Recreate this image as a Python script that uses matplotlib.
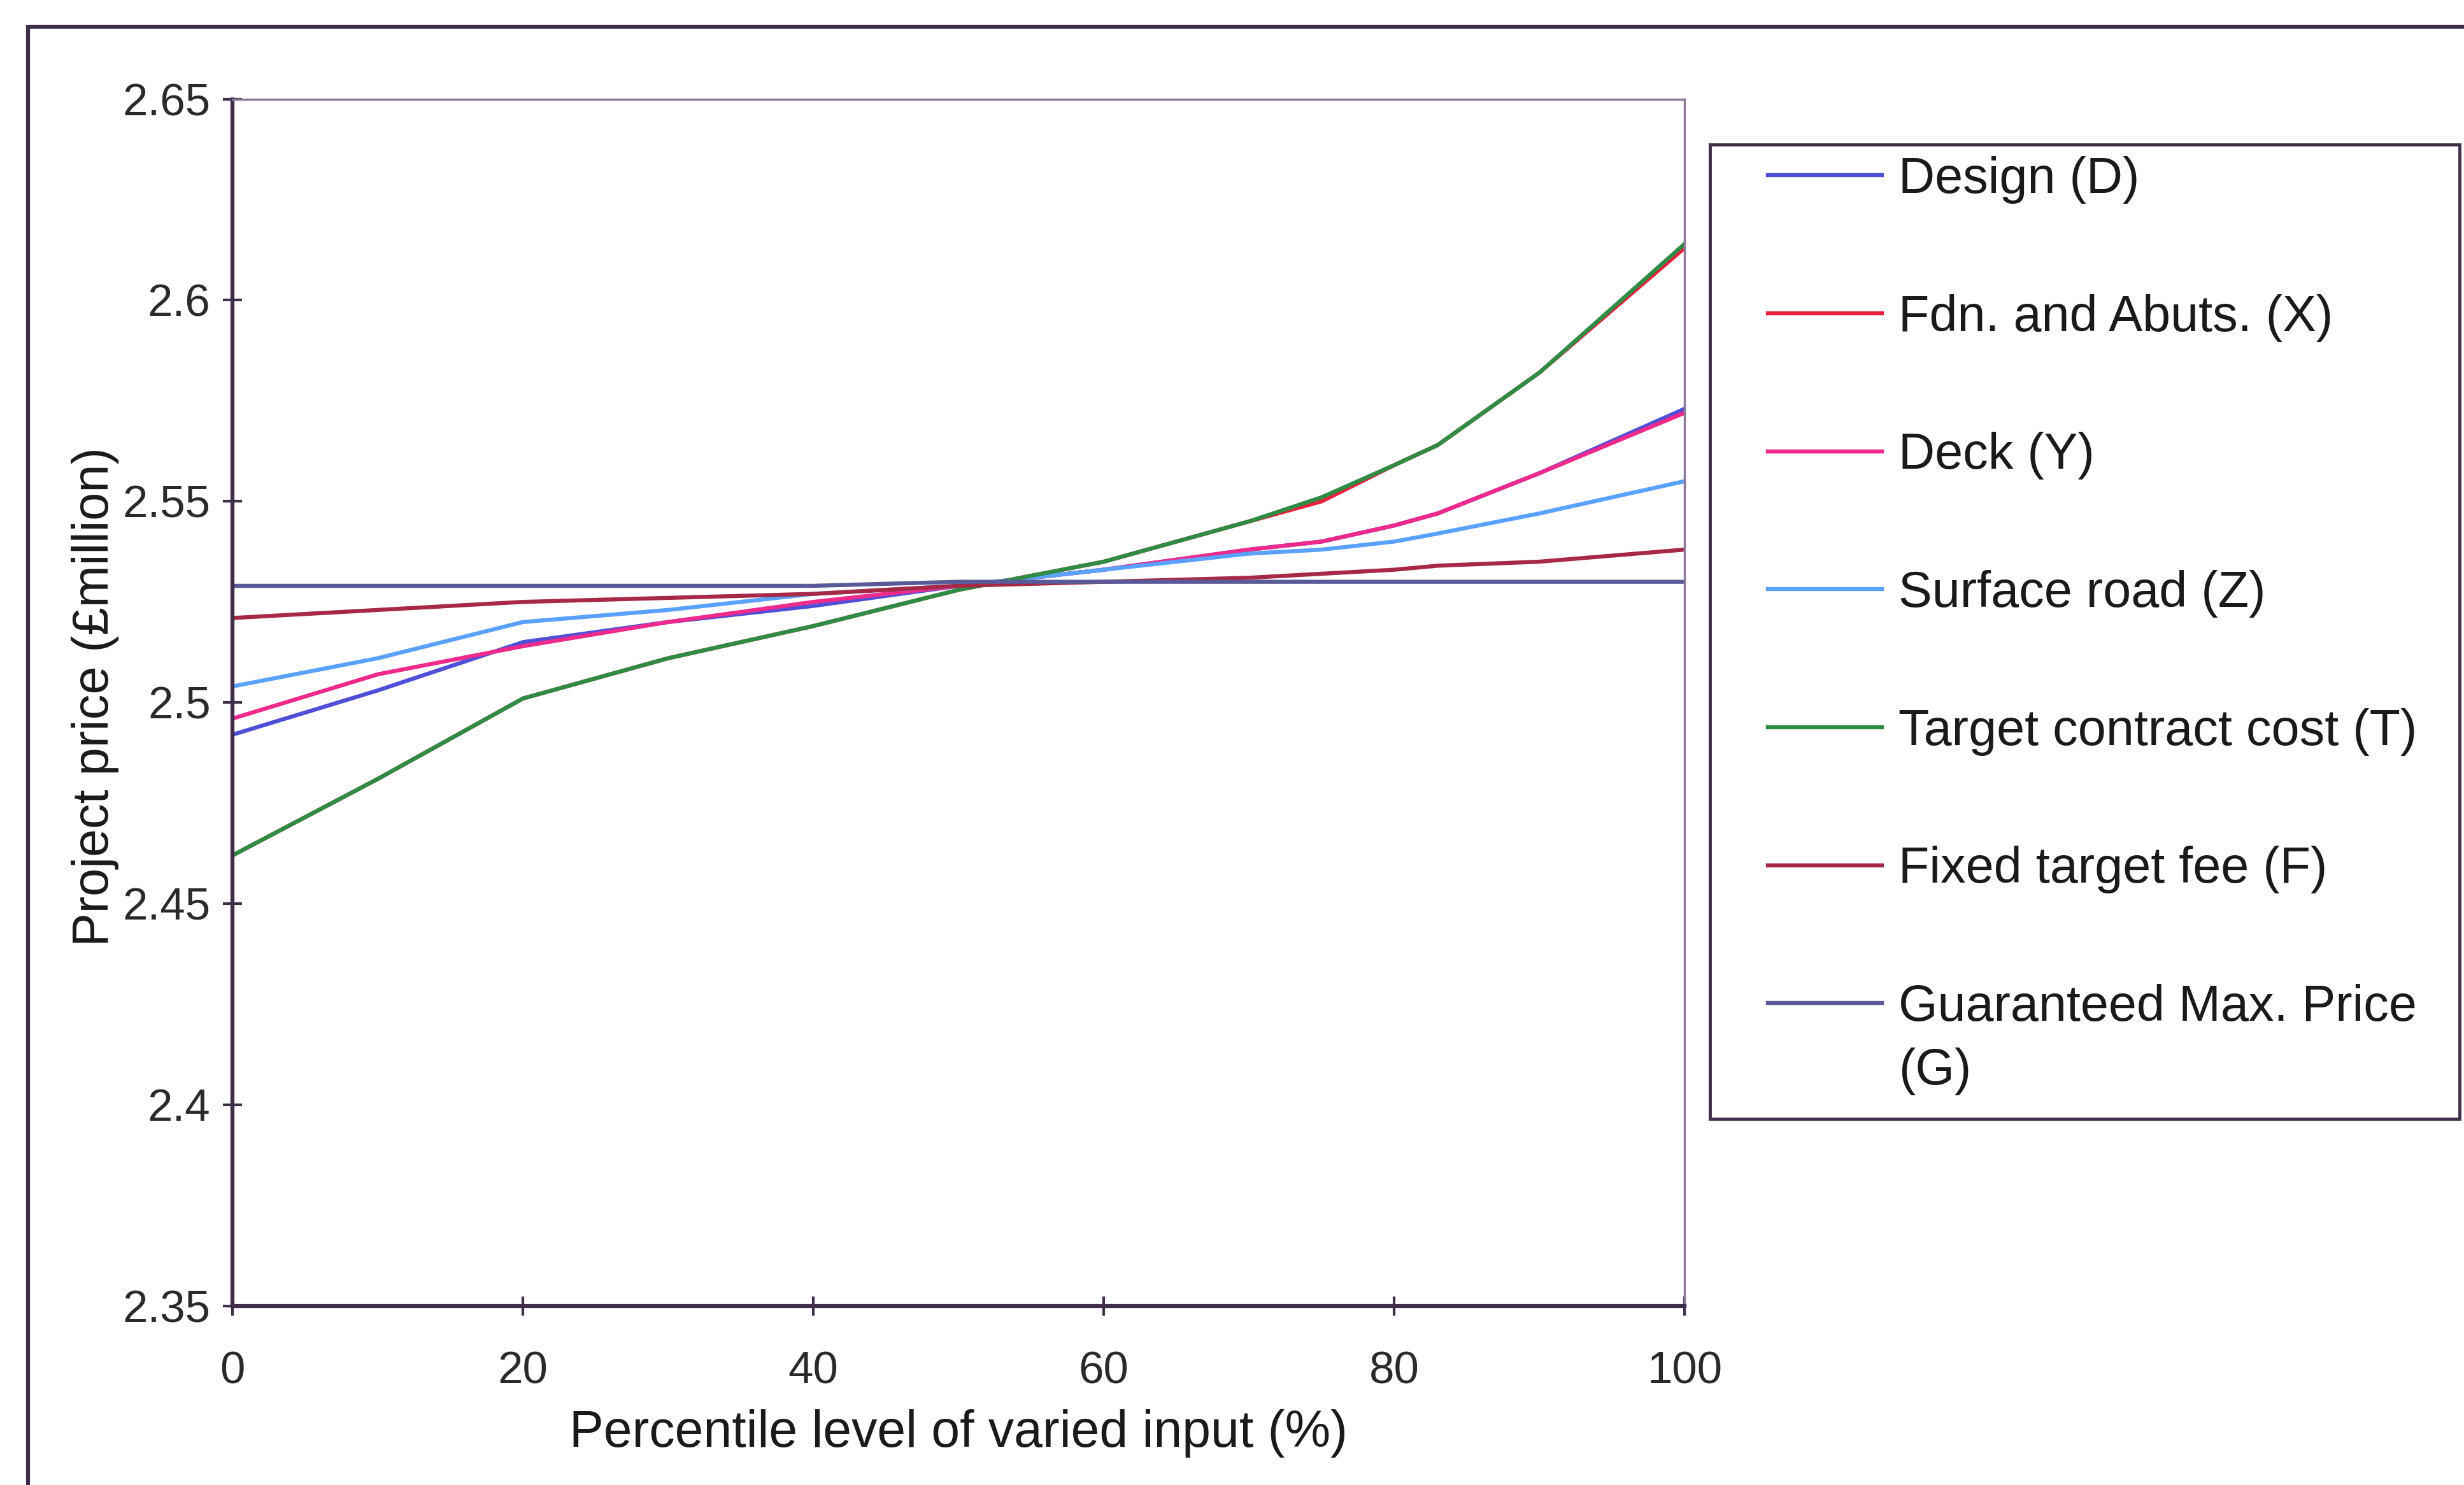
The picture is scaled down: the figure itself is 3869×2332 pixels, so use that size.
import matplotlib
matplotlib.use("Agg")
import matplotlib.pyplot as plt
from matplotlib.patches import Rectangle

plt.rcParams['font.family'] = ['Liberation Sans', 'DejaVu Sans']

# percentile level of the varied input
pct = [0, 10, 20, 30, 40, 50, 60, 70, 75, 80, 83, 90, 100]

# project price (£million) per varied input
design = [2.492, 2.503, 2.515, 2.520, 2.524, 2.529, 2.533, 2.538, 2.540, 2.544, 2.547, 2.557, 2.573]
fdn = [2.462, 2.481, 2.501, 2.511, 2.519, 2.528, 2.535, 2.545, 2.550, 2.559, 2.564, 2.582, 2.613]
deck = [2.496, 2.507, 2.514, 2.520, 2.525, 2.529, 2.533, 2.538, 2.540, 2.544, 2.547, 2.557, 2.572]
road = [2.504, 2.511, 2.520, 2.523, 2.527, 2.529, 2.533, 2.537, 2.538, 2.540, 2.542, 2.547, 2.555]
target = [2.462, 2.481, 2.501, 2.511, 2.519, 2.528, 2.535, 2.545, 2.551, 2.559, 2.564, 2.582, 2.614]
fee = [2.521, 2.523, 2.525, 2.526, 2.527, 2.529, 2.530, 2.531, 2.532, 2.533, 2.534, 2.535, 2.538]
gmp = [2.529, 2.529, 2.529, 2.529, 2.529, 2.530, 2.530, 2.530, 2.530, 2.530, 2.530, 2.530, 2.530]

labels = ['Design (D)', 'Fdn. and Abuts. (X)', 'Deck (Y)', 'Surface road (Z)',
          'Target contract cost (T)', 'Fixed target fee (F)', 'Guaranteed Max. Price']
series = [design, fdn, deck, road, target, fee, gmp]
colors = ['#4f4fd8', '#e8203c', '#ee2a8c', '#5aa2ff', '#2f8c45', '#a82848', '#5a5a98']

ink = '#3e2e4a'
txt = '#1a1a1a'

fig = plt.figure(figsize=(38.69, 23.32), dpi=100)
ax = fig.add_axes([0.0944, 0.1206, 0.5893, 0.8127])

for ys, lab, c in zip(series, labels, colors):
    ax.plot(pct, ys, color=c, lw=4.6, label=lab)

ax.set_xlim(0, 100)
ax.set_ylim(2.35, 2.65)
ax.set_xticks([0, 20, 40, 60, 80, 100])
ax.set_yticks([2.35, 2.4, 2.45, 2.5, 2.55, 2.6, 2.65])
ax.set_yticklabels(['2.35', '2.4', '2.45', '2.5', '2.55', '2.6', '2.65'])
ax.tick_params(axis='both', direction='inout', length=22, width=3, colors=ink,
               labelsize=51, labelcolor='#2a2a2a')
ax.tick_params(axis='x', pad=40)
ax.tick_params(axis='y', pad=14)

for side in ['left', 'bottom']:
    ax.spines[side].set_color(ink)
    ax.spines[side].set_linewidth(4.5)
for side in ['top', 'right']:
    ax.spines[side].set_color('#8a7898')
    ax.spines[side].set_linewidth(2.5)

ax.set_xlabel('Percentile level of varied input (%)', fontsize=58, color=txt, labelpad=18)
ax.set_ylabel('Project price (£million)', fontsize=57, color=txt)
ax.yaxis.set_label_coords(-0.078, 0.505)

# legend box drawn separately so its padding can match the original
fig.patches.append(Rectangle((1088 / 1568, 1 - 712 / 945), 477 / 1568, 620 / 945,
                             transform=fig.transFigure, fill=False, edgecolor=ink, lw=3.5))
leg = fig.legend(loc='upper left', bbox_to_anchor=(1122 / 1568, 1 - 96 / 945), fontsize=57,
                 frameon=False, handlelength=2.25, handletextpad=0.34, labelspacing=1.79,
                 borderpad=0.1, borderaxespad=0)
for t in leg.get_texts():
    t.set_color(txt)

fig.canvas.draw()
last = leg.get_texts()[-1]
bb = last.get_window_extent().transformed(fig.transFigure.inverted())
fig.text(bb.x0, bb.y0 - 0.043, '(G)', fontsize=57, color=txt, ha='left', va='bottom')

# outer chart border, cut off by the scan on the right and bottom
fig.patches.append(Rectangle((0.0115, -0.05), 1.2, 0.982 + 0.05, transform=fig.transFigure,
                             fill=False, edgecolor=ink, lw=4.5))

fig.savefig('out.png', dpi=100)
